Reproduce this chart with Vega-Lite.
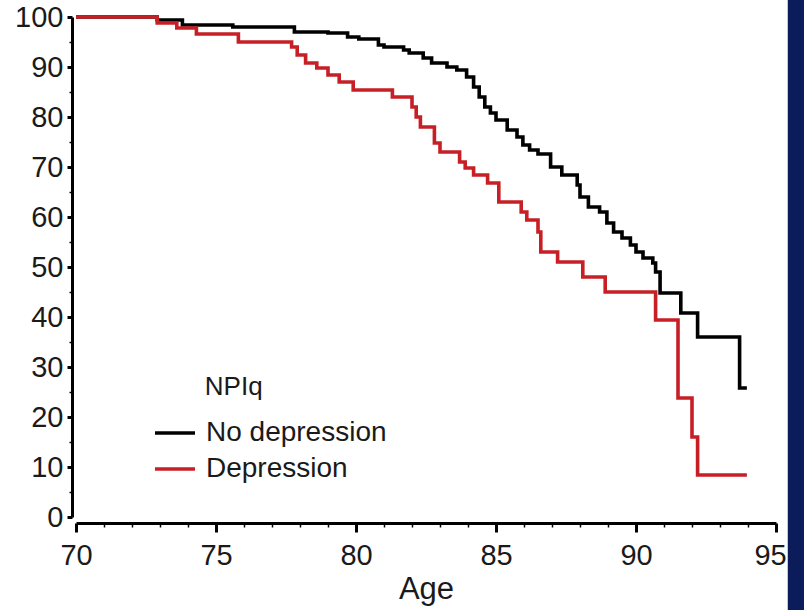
{
  "$schema": "https://vega.github.io/schema/vega-lite/v6.json",
  "width": 700,
  "height": 500,
  "autosize": {"type": "none"},
  "padding": {"left": 76, "top": 17, "right": 28, "bottom": 93},
  "background": "white",
  "config": {
    "view": {"stroke": null},
    "font": "Liberation Sans",
    "axis": {"labelOverlap": false, "labelFlush": false},
    "axisX": {"labelOverlap": false},
    "axisQuantitative": {"labelOverlap": false}
  },
  "encoding": {
    "x": {
      "field": "age",
      "type": "quantitative",
      "scale": {"domain": [70, 95], "nice": false, "zero": false},
      "axis": {
        "title": "Age",
        "titleFontSize": 31,
        "titleFont": "Liberation Sans",
        "titleColor": "#1a1a1a",
        "titleFontWeight": "normal",
        "titlePadding": 4,
        "values": [70,71,72,73,74,75,76,77,78,79,80,81,82,83,84,85,86,87,88,89,90,91,92,93,94,95],
        "labelExpr": "abs(datum.value / 5 - round(datum.value / 5)) < 0.01 ? datum.label : ''",
        "labelFontSize": 29,
        "labelFont": "Liberation Sans",
        "labelColor": "#1a1a1a",
        "labelPadding": 9,
        "labelFlush": false,
        "labelOverlap": false,
        "labelOffset": {"condition": {"test": "datum.value > 94.5", "value": -6}, "value": 0},
        "tickSize": {"condition": {"test": "abs(datum.value / 5 - round(datum.value / 5)) < 0.01", "value": 9}, "value": 4},
        "tickWidth": {"condition": {"test": "abs(datum.value / 5 - round(datum.value / 5)) < 0.01", "value": 3}, "value": 1.5},
        "tickColor": "#000000",
        "domainColor": "#000000",
        "domainWidth": 3,
        "offset": 6,
        "grid": false,
        "zindex": 1
      }
    },
    "y": {
      "field": "surv",
      "type": "quantitative",
      "scale": {"domain": [0, 100], "nice": false},
      "axis": {
        "title": null,
        "values": [0,5,10,15,20,25,30,35,40,45,50,55,60,65,70,75,80,85,90,95,100],
        "labelExpr": "abs(datum.value / 10 - round(datum.value / 10)) < 0.01 ? datum.label : ''",
        "labelFontSize": 29,
        "labelFont": "Liberation Sans",
        "labelColor": "#1a1a1a",
        "labelPadding": 4,
        "labelFlush": false,
        "labelOverlap": false,
        "tickSize": {"condition": {"test": "abs(datum.value / 10 - round(datum.value / 10)) < 0.01", "value": 5}, "value": 3},
        "tickWidth": {"condition": {"test": "abs(datum.value / 10 - round(datum.value / 10)) < 0.01", "value": 3}, "value": 1.5},
        "tickColor": "#000000",
        "domainColor": "#000000",
        "domainWidth": 3,
        "offset": 4,
        "grid": false
      }
    }
  },
  "layer": [
    {
      "data": {"values": [{"age": 95.42, "age_end": 96.6, "surv": 110, "surv_end": -25}]},
      "mark": {"type": "rect", "color": "#0c1b5a", "clip": false},
      "encoding": {
        "x2": {"field": "age_end"},
        "y2": {"field": "surv_end"}
      }
    },
    {
      "data": {
        "values": [
          {"group": "No depression", "age": 70, "surv": 100},
          {"group": "No depression", "age": 72.9, "surv": 99.4},
          {"group": "No depression", "age": 73.8, "surv": 98.4},
          {"group": "No depression", "age": 75.6, "surv": 98},
          {"group": "No depression", "age": 77.8, "surv": 97},
          {"group": "No depression", "age": 79.0, "surv": 96.8},
          {"group": "No depression", "age": 79.7, "surv": 96},
          {"group": "No depression", "age": 80.1, "surv": 95.6},
          {"group": "No depression", "age": 80.8, "surv": 94.4},
          {"group": "No depression", "age": 81.0, "surv": 94},
          {"group": "No depression", "age": 81.7, "surv": 93.4},
          {"group": "No depression", "age": 81.9, "surv": 92.8},
          {"group": "No depression", "age": 82.4, "surv": 91.8},
          {"group": "No depression", "age": 82.7, "surv": 90.8},
          {"group": "No depression", "age": 83.25, "surv": 90},
          {"group": "No depression", "age": 83.6, "surv": 89.4},
          {"group": "No depression", "age": 83.95, "surv": 88},
          {"group": "No depression", "age": 84.2, "surv": 86},
          {"group": "No depression", "age": 84.4, "surv": 84},
          {"group": "No depression", "age": 84.6, "surv": 82},
          {"group": "No depression", "age": 84.8, "surv": 80.8},
          {"group": "No depression", "age": 85.0, "surv": 79.4},
          {"group": "No depression", "age": 85.4, "surv": 77.4},
          {"group": "No depression", "age": 85.75, "surv": 76},
          {"group": "No depression", "age": 85.96, "surv": 74.4},
          {"group": "No depression", "age": 86.2, "surv": 73.4},
          {"group": "No depression", "age": 86.5, "surv": 72.6},
          {"group": "No depression", "age": 86.95, "surv": 70},
          {"group": "No depression", "age": 87.35, "surv": 68.4},
          {"group": "No depression", "age": 87.9, "surv": 66.4},
          {"group": "No depression", "age": 88.0, "surv": 64},
          {"group": "No depression", "age": 88.3, "surv": 62},
          {"group": "No depression", "age": 88.7, "surv": 61},
          {"group": "No depression", "age": 88.96, "surv": 58.8},
          {"group": "No depression", "age": 89.2, "surv": 57},
          {"group": "No depression", "age": 89.5, "surv": 55.8},
          {"group": "No depression", "age": 89.8, "surv": 54.4},
          {"group": "No depression", "age": 90.0, "surv": 53},
          {"group": "No depression", "age": 90.25, "surv": 51.8},
          {"group": "No depression", "age": 90.6, "surv": 50.8},
          {"group": "No depression", "age": 90.7, "surv": 49},
          {"group": "No depression", "age": 90.86, "surv": 44.8},
          {"group": "No depression", "age": 91.6, "surv": 40.8},
          {"group": "No depression", "age": 92.2, "surv": 36},
          {"group": "No depression", "age": 93.7, "surv": 25.8},
          {"group": "No depression", "age": 93.96, "surv": 25.8},
          {"group": "Depression", "age": 70, "surv": 100},
          {"group": "Depression", "age": 72.9, "surv": 98.8},
          {"group": "Depression", "age": 73.6, "surv": 97.8},
          {"group": "Depression", "age": 74.3, "surv": 96.6},
          {"group": "Depression", "age": 75.8, "surv": 95},
          {"group": "Depression", "age": 77.7, "surv": 94},
          {"group": "Depression", "age": 77.9, "surv": 92.4},
          {"group": "Depression", "age": 78.2, "surv": 90.8},
          {"group": "Depression", "age": 78.6, "surv": 89.8},
          {"group": "Depression", "age": 79.0, "surv": 88.4},
          {"group": "Depression", "age": 79.4, "surv": 87},
          {"group": "Depression", "age": 79.9, "surv": 85.4},
          {"group": "Depression", "age": 81.3, "surv": 84},
          {"group": "Depression", "age": 82.0, "surv": 82},
          {"group": "Depression", "age": 82.15, "surv": 80},
          {"group": "Depression", "age": 82.3, "surv": 78},
          {"group": "Depression", "age": 82.8, "surv": 74.8},
          {"group": "Depression", "age": 83.0, "surv": 73},
          {"group": "Depression", "age": 83.7, "surv": 71},
          {"group": "Depression", "age": 83.9, "surv": 69.8},
          {"group": "Depression", "age": 84.2, "surv": 68.4},
          {"group": "Depression", "age": 84.7, "surv": 66.8},
          {"group": "Depression", "age": 85.1, "surv": 63},
          {"group": "Depression", "age": 85.9, "surv": 61},
          {"group": "Depression", "age": 86.1, "surv": 59.4},
          {"group": "Depression", "age": 86.5, "surv": 57},
          {"group": "Depression", "age": 86.6, "surv": 53},
          {"group": "Depression", "age": 87.2, "surv": 51},
          {"group": "Depression", "age": 88.1, "surv": 48},
          {"group": "Depression", "age": 88.9, "surv": 45},
          {"group": "Depression", "age": 90.7, "surv": 39.4},
          {"group": "Depression", "age": 91.5, "surv": 23.8},
          {"group": "Depression", "age": 92.0, "surv": 16},
          {"group": "Depression", "age": 92.2, "surv": 8.4},
          {"group": "Depression", "age": 93.96, "surv": 8.4}
        ]
      },
      "mark": {"type": "line", "interpolate": "step-after", "strokeWidth": 3.6},
      "encoding": {
        "color": {
          "field": "group",
          "type": "nominal",
          "scale": {"domain": ["No depression", "Depression"], "range": ["#000000", "#c62026"]},
          "legend": {
            "title": null,
            "orient": "none",
            "legendX": 77,
            "legendY": 394,
            "symbolType": "stroke",
            "symbolSize": 1600,
            "symbolStrokeWidth": 3.6,
            "labelFontSize": 28,
            "labelFont": "Liberation Sans",
            "labelColor": "#1a1a1a",
            "labelOffset": 9,
            "labelLimit": 400,
            "rowPadding": -8,
            "padding": 0
          }
        }
      }
    },
    {
      "data": {"values": [{"label": "NPIq", "age": 74.6, "surv": 24.4}]},
      "mark": {"type": "text", "align": "left", "baseline": "alphabetic", "fontSize": 26, "font": "Liberation Sans", "color": "#1a1a1a"},
      "encoding": {
        "text": {"field": "label"}
      }
    }
  ]
}
